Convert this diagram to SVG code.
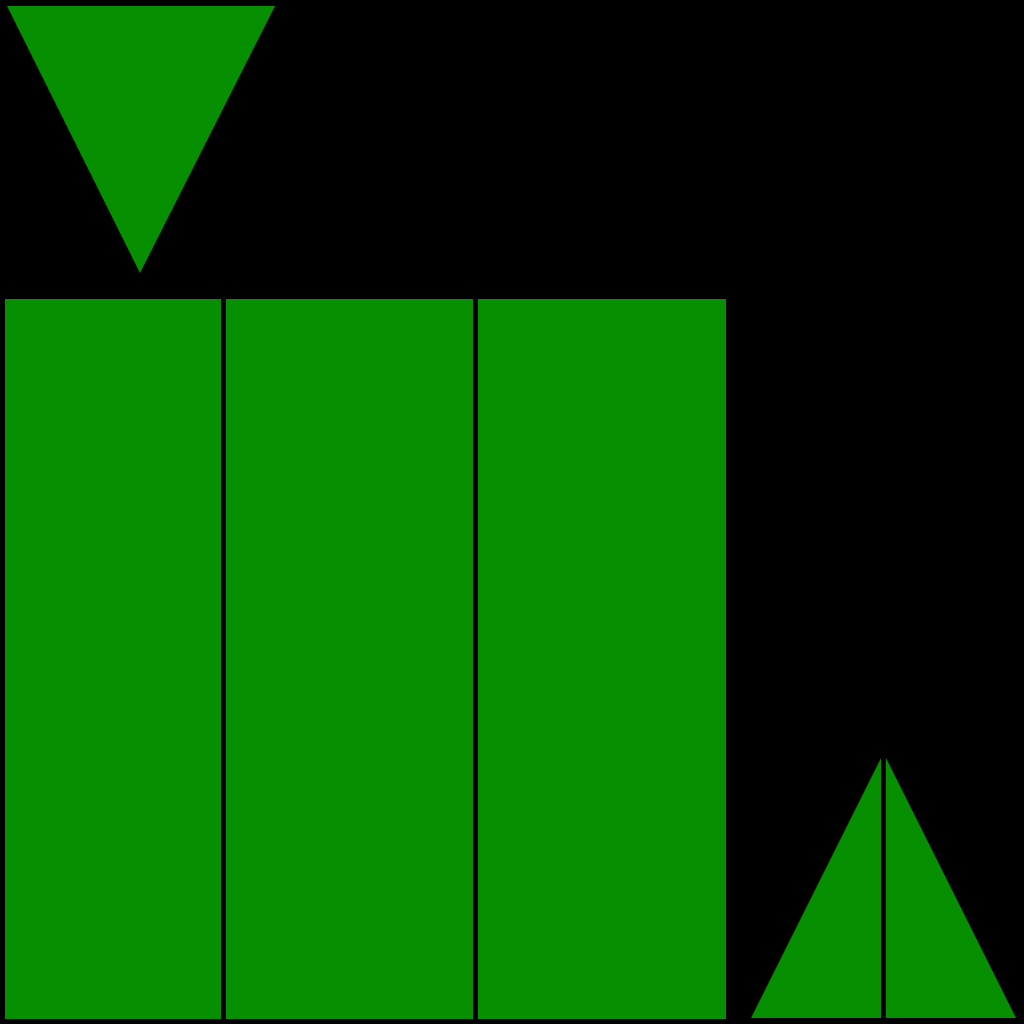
<svg xmlns="http://www.w3.org/2000/svg" width="1024" height="1024" viewBox="0 0 1024 1024">
<style>.g{fill:#078f02}</style>
<rect x="0" y="0" width="1024" height="1024" fill="#000"/>
<polygon class="g" points="7,6 275,6 140,273"/>
<rect class="g" x="5" y="299" width="216" height="720"/>
<rect class="g" x="226" y="299" width="247" height="720"/>
<rect class="g" x="478" y="299" width="248" height="720"/>
<polygon class="g" points="751,1018 881,758 881,1018"/>
<polygon class="g" points="886,758 1016,1018 886,1018"/>
</svg>
